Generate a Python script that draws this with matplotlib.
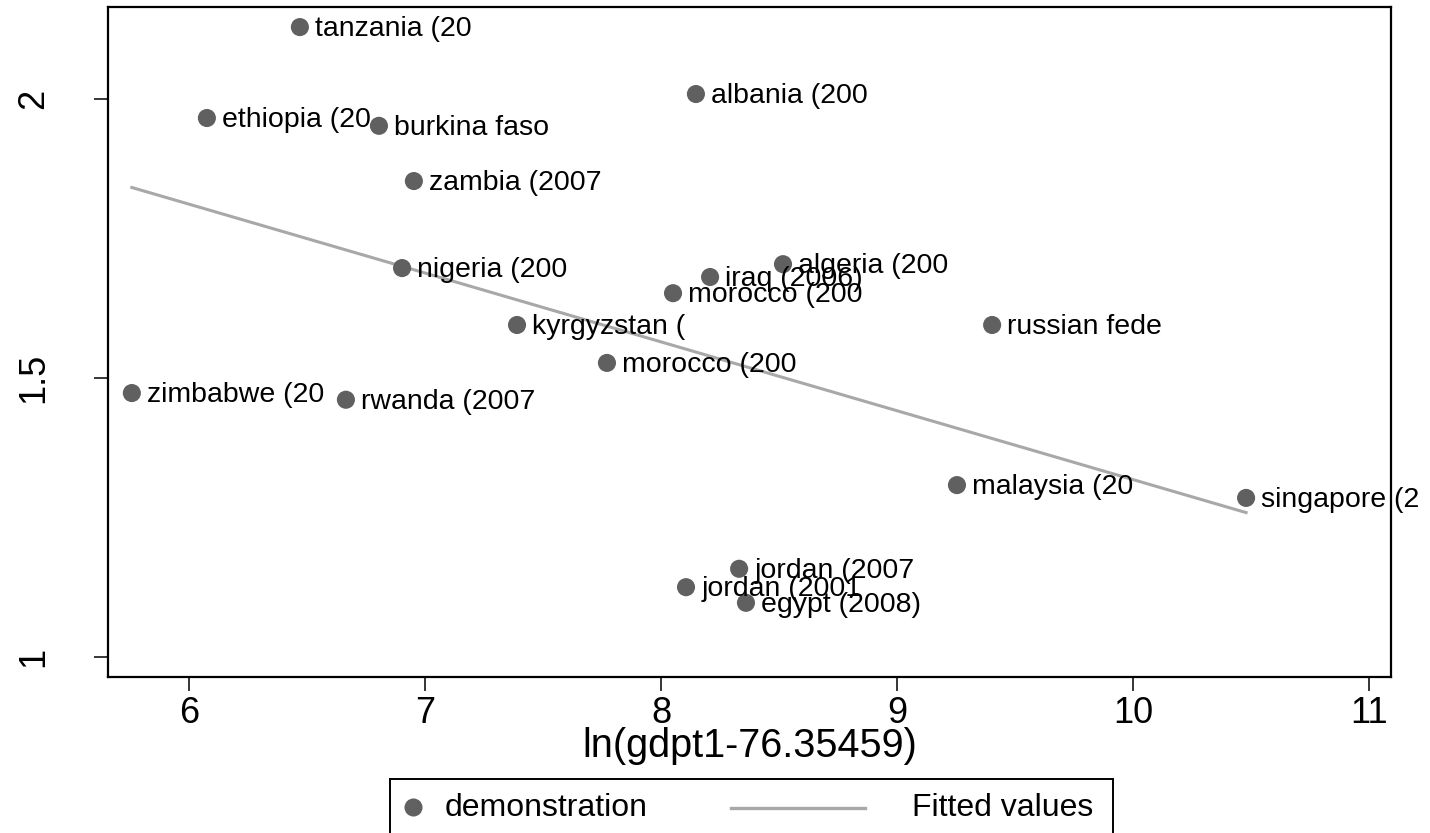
import numpy as np
import matplotlib
matplotlib.use("Agg")
import matplotlib.pyplot as plt
from matplotlib.lines import Line2D

plt.rcParams['font.family'] = ['Liberation Sans', 'DejaVu Sans']

# --- data ---
labels = ["tanzania (20", "albania (200", "ethiopia (20", "burkina faso",
          "zambia (2007", "nigeria (200", "iraq (2006)", "algeria (200",
          "morocco (200", "kyrgyzstan (", "russian fede", "morocco (200",
          "zimbabwe (20", "rwanda (2007", "malaysia (20", "singapore (2",
          "jordan (2007", "jordan (2001", "egypt (2008)"]
lngdp = [6.470, 8.148, 6.076, 6.805, 6.953, 6.903, 8.208, 8.517,
         8.051, 7.390, 9.403, 7.771, 5.758, 6.665, 9.254, 10.479,
         8.331, 8.106, 8.360]
demo = [2.129, 2.009, 1.966, 1.952, 1.853, 1.697, 1.681, 1.704,
        1.652, 1.595, 1.595, 1.527, 1.473, 1.461, 1.308, 1.285,
        1.158, 1.125, 1.097]

x = np.array(lngdp)
y = np.array(demo)

# linear fit (Stata lfit)
b, a = np.polyfit(x, y, 1)
xf = np.array([x.min(), x.max()])
yf = a + b * xf

marker_col = '#606060'
line_col = '#a8a8a8'

fig = plt.figure(figsize=(14.3, 8.33), dpi=100)
ax = fig.add_axes([108 / 1430, 1 - 677 / 833, (1391 - 108) / 1430, (677 - 7) / 833])

ax.plot(xf, yf, color=line_col, lw=2.2, zorder=2)
ax.scatter(x, y, s=170, color=marker_col, edgecolors='none', zorder=3)
for xi, yi, lab in zip(x, y, labels):
    ax.annotate(lab, (xi, yi), xytext=(11, -1.5), textcoords='offset points',
                ha='left', va='center', fontsize=20.5, color='black', zorder=4)

ax.set_xlim(5.657, 11.093)
ax.set_ylim(0.964, 2.165)
ax.set_xticks([6, 7, 8, 9, 10, 11])
ax.set_yticks([1, 1.5, 2])
ax.set_yticklabels(['1', '1.5', '2'])

for s in ax.spines.values():
    s.set_linewidth(1.6)
    s.set_color('black')

ax.tick_params(axis='both', direction='out', length=10, width=1.1,
               labelsize=26, color='black')
ax.tick_params(axis='x', pad=3.5)
ax.tick_params(axis='y', pad=31, labelrotation=90)
plt.setp(ax.get_yticklabels(), va='center')

ax.set_xlabel("ln(gdpt1-76.35459)", fontsize=28.5, labelpad=-3)

# --- legend box below the plot ---
lax = fig.add_axes([390 / 1430, -0.02, (1113 - 390) / 1430, (833 - 779) / 833 + 0.02])
lax.set_xlim(390, 1113)
lax.set_ylim(833 + 0.02 * 833, 779)
lax.set_xticks([])
lax.set_yticks([])
for s in lax.spines.values():
    s.set_linewidth(1.4)
    s.set_color('black')
lax.add_line(Line2D([413], [807], marker='o', markersize=13,
                    color=marker_col, markeredgewidth=0, linestyle='none'))
lax.text(445, 808, "demonstration", fontsize=23, va='center', ha='left')
lax.add_line(Line2D([731, 865], [808, 808], color=line_col, lw=2.4))
lax.text(1093, 808, "Fitted values", fontsize=23, va='center', ha='right')

fig.savefig("out.png", dpi=100)
